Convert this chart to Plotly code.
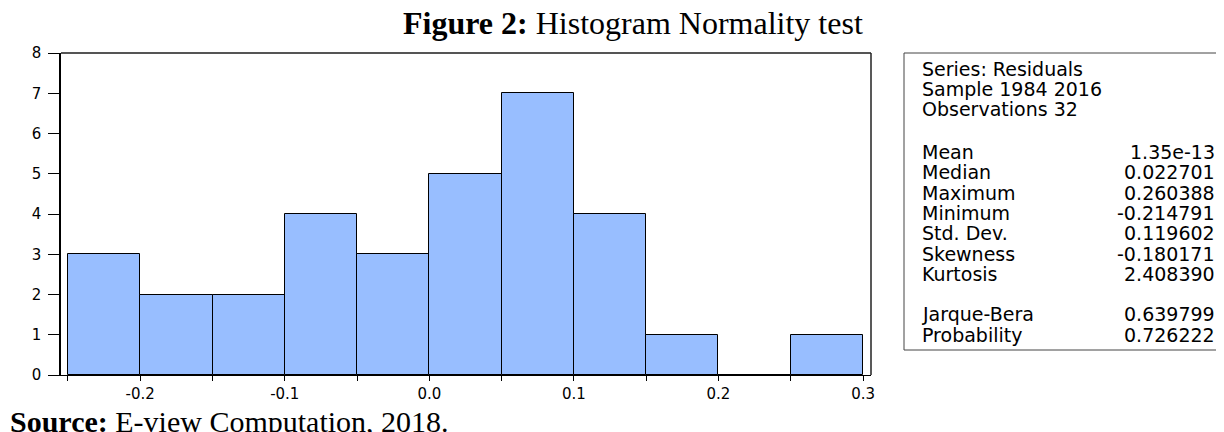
import plotly.graph_objects as go

# ---- data ----
bin_left = [-0.25, -0.20, -0.15, -0.10, -0.05, 0.00, 0.05, 0.10, 0.15, 0.20, 0.25]
counts = [3, 2, 2, 4, 3, 5, 7, 4, 1, 0, 1]
bin_width = 0.05
x_tickvals = [-0.25, -0.20, -0.15, -0.10, -0.05, 0.00, 0.05, 0.10, 0.15, 0.20, 0.25, 0.30]
x_ticktext = ["", "-0.2", "", "-0.1", "", "0.0", "", "0.1", "", "0.2", "", "0.3"]
y_tickvals = [0, 1, 2, 3, 4, 5, 6, 7, 8]

header_lines = ["Series: Residuals", "Sample 1984 2016", "Observations 32"]
stat_labels = ["Mean", "Median", "Maximum", "Minimum", "Std. Dev.", "Skewness", "Kurtosis",
               "Jarque-Bera", "Probability"]
stat_values = ["1.35e-13", "0.022701", "0.260388", "-0.214791", "0.119602", "-0.180171",
               "2.408390", "0.639799", "0.726222"]

title_bold = "Figure 2:"
title_rest = " Histogram Normality test"
source_bold = "Source:"
source_rest = " E-view Computation, 2018."

# ---- layout geometry ----
# the page body has an 8px margin, so the figure is 8px smaller and coordinates
# below are given in page pixels and shifted by OFF.
OFF = 8
W, H = 1224 - OFF, 432 - OFF
L, R, T, B = 61 - OFF, 871 - OFF, 53 - OFF, 375 - OFF


def px(x):
    return (x - OFF - L) / (R - L)


def py(y):
    return (B - (y - OFF)) / (B - T)


centers = [b + bin_width / 2 for b in bin_left]

fig = go.Figure()
fig.add_trace(go.Bar(
    x=centers, y=counts, width=bin_width,
    marker=dict(color="#98BEFF", line=dict(color="#000000", width=1)),
    showlegend=False, hoverinfo="skip",
))

sans = "DejaVu Sans"
serif = "Liberation Serif"

fig.update_layout(
    width=W, height=H,
    margin=dict(l=L, r=W - R, t=T, b=H - B, pad=0),
    paper_bgcolor="white", plot_bgcolor="white",
    bargap=0,
    xaxis=dict(
        range=[-0.2548, 0.3055], tickvals=x_tickvals, ticktext=x_ticktext,
        ticks="outside", ticklen=5, tickcolor="#000", tickwidth=1,
        showline=True, linecolor="#000", linewidth=1, showgrid=False, zeroline=False,
        tickfont=dict(family=sans, size=15, color="#000"),
    ),
    yaxis=dict(
        range=[0, 8], tickvals=y_tickvals,
        ticks="outside", ticklen=11, tickcolor="#000", tickwidth=1,
        ticklabelstandoff=4,
        showline=True, linecolor="#000", linewidth=1.5, showgrid=False, zeroline=False,
        tickfont=dict(family=sans, size=15, color="#000"),
    ),
)

shapes = [
    dict(type="line", xref="paper", yref="paper", x0=0, x1=1, y0=1, y1=1,
         line=dict(color="#555", width=2)),
    dict(type="line", xref="paper", yref="paper", x0=1, x1=1, y0=0, y1=1,
         line=dict(color="#222", width=1.5)),
    dict(type="rect", xref="paper", yref="paper", x0=px(904), x1=px(1232), y0=py(350), y1=py(53),
         line=dict(color="#444", width=1), fillcolor="rgba(0,0,0,0)"),
]
fig.update_layout(shapes=shapes)

ann = []
fs = 19
header_y = [69, 89, 109]
for txt, yy in zip(header_lines, header_y):
    ann.append(dict(text=txt, x=px(920), y=py(yy), xref="paper", yref="paper",
                    xanchor="left", yanchor="middle", showarrow=False,
                    font=dict(family=sans, size=fs, color="#000")))
stat_y = [152, 172.3, 192.6, 212.9, 233.2, 253.5, 273.8, 314, 334.5]
for lab, val, yy in zip(stat_labels, stat_values, stat_y):
    ann.append(dict(text=lab, x=px(920), y=py(yy), xref="paper", yref="paper",
                    xanchor="left", yanchor="middle", showarrow=False,
                    font=dict(family=sans, size=fs, color="#000")))
    ann.append(dict(text=val, x=px(1217), y=py(yy), xref="paper", yref="paper",
                    xanchor="right", yanchor="middle", showarrow=False,
                    font=dict(family=sans, size=fs, color="#000")))

ann.append(dict(text="<b>" + title_bold + "</b>" + title_rest, x=px(633), y=py(23),
                xref="paper", yref="paper", xanchor="center", yanchor="middle",
                showarrow=False, font=dict(family=serif, size=32, color="#000")))
ann.append(dict(text="<b>" + source_bold + "</b>" + source_rest, x=px(8), y=py(422),
                xref="paper", yref="paper", xanchor="left", yanchor="middle",
                showarrow=False, font=dict(family=serif, size=30, color="#000")))
fig.update_layout(annotations=ann)

fig.write_html("out.html")
